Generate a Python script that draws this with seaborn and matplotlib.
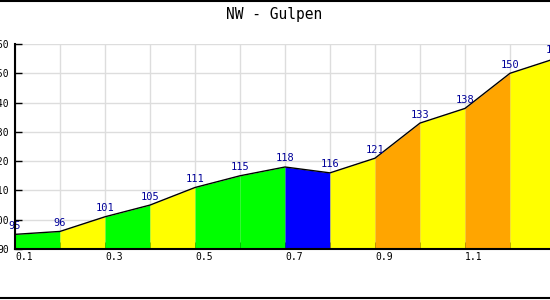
import matplotlib
matplotlib.use("Agg")
import matplotlib.pyplot as plt
import matplotlib.ticker as mticker
from matplotlib.lines import Line2D
import seaborn as sns
import numpy as np

# ---- data ----
title = "NW - Gulpen"
distance_km = [0.1, 0.2, 0.3, 0.4, 0.5, 0.6, 0.7, 0.8, 0.9, 1.0, 1.1, 1.2, 1.3]
elevation_m = [95, 96, 101, 105, 111, 115, 118, 116, 121, 133, 138, 150, 155]
y_ticks = [90, 100, 110, 120, 130, 140, 150, 160]
x_ticks = [0.1, 0.2, 0.3, 0.4, 0.5, 0.6, 0.7, 0.8, 0.9, 1.0, 1.1, 1.2, 1.3]
x_tick_labels = ["0.1", "", "0.3", "", "0.5", "", "0.7", "", "0.9", "", "1.1", "", "1.3"]


def grade_colour(g):
    g = round(g, 3)
    if g < 0:
        return "#0000ff"
    if g < 5:
        return "#00ff00"
    if g < 10:
        return "#ffff00"
    return "#ffa500"


sns.set_style("white")
plt.rcParams["font.family"] = ["DejaVu Sans Mono", "DejaVu Sans"]

fig = plt.figure(figsize=(5.5, 3.0), dpi=100)
ax = fig.add_axes([15 / 550, 51 / 300, 540 / 550, 205 / 300])

ax.set_xlim(0.1, 1.3)
ax.set_ylim(90, 160)

# coloured segments
for i in range(len(distance_km) - 1):
    x0, x1 = distance_km[i], distance_km[i + 1]
    y0, y1 = elevation_m[i], elevation_m[i + 1]
    grade = (y1 - y0) / ((x1 - x0) * 1000) * 100
    ax.fill_between([x0, x1], [y0, y1], 90, color=grade_colour(grade), lw=0, zorder=2)

sns.lineplot(x=distance_km, y=elevation_m, color="black", lw=1, ax=ax, zorder=3)

for x, y in zip(distance_km, elevation_m):
    ax.annotate(str(y), (x, y), xytext=(0, 4), textcoords="offset points",
                ha="center", va="baseline", color="#000099", fontsize=7.5, zorder=4,
                annotation_clip=False)

# axes styling
ax.yaxis.set_major_locator(mticker.FixedLocator(y_ticks))
ax.yaxis.set_minor_locator(mticker.MultipleLocator(5))
ax.xaxis.set_major_locator(mticker.FixedLocator(x_ticks))
ax.set_xticklabels(x_tick_labels)
for lab in ax.get_xticklabels():
    lab.set_horizontalalignment("left")
ax.tick_params(axis="both", which="major", direction="in", length=5, width=1,
               colors="black", labelsize=7)
ax.tick_params(axis="x", which="major", pad=2)
ax.tick_params(axis="y", which="major", pad=4)
ax.tick_params(axis="y", which="minor", direction="in", length=3, width=1, colors="black")
ax.tick_params(axis="y", left=True)
ax.tick_params(axis="x", bottom=True)

ax.grid(True, which="major", color="#dddddd", lw=1, zorder=0)
ax.set_axisbelow(True)
for s in ["top", "right"]:
    ax.spines[s].set_visible(False)
for s in ["left", "bottom"]:
    ax.spines[s].set_visible(True)
    ax.spines[s].set_color("black")
    ax.spines[s].set_linewidth(1.5)
    ax.spines[s].set_zorder(5)
ax.set_xlabel("")
ax.set_ylabel("")

fig.text(274 / 550, 1 - 15 / 300, title, ha="center", va="center", fontsize=10.5, color="black")

fig.add_artist(Line2D([0, 1], [0.998, 0.998], color="black", lw=1.5, transform=fig.transFigure))
fig.add_artist(Line2D([0, 1], [0.006, 0.006], color="black", lw=1.5, transform=fig.transFigure))

fig.savefig("out.png", dpi=100)
